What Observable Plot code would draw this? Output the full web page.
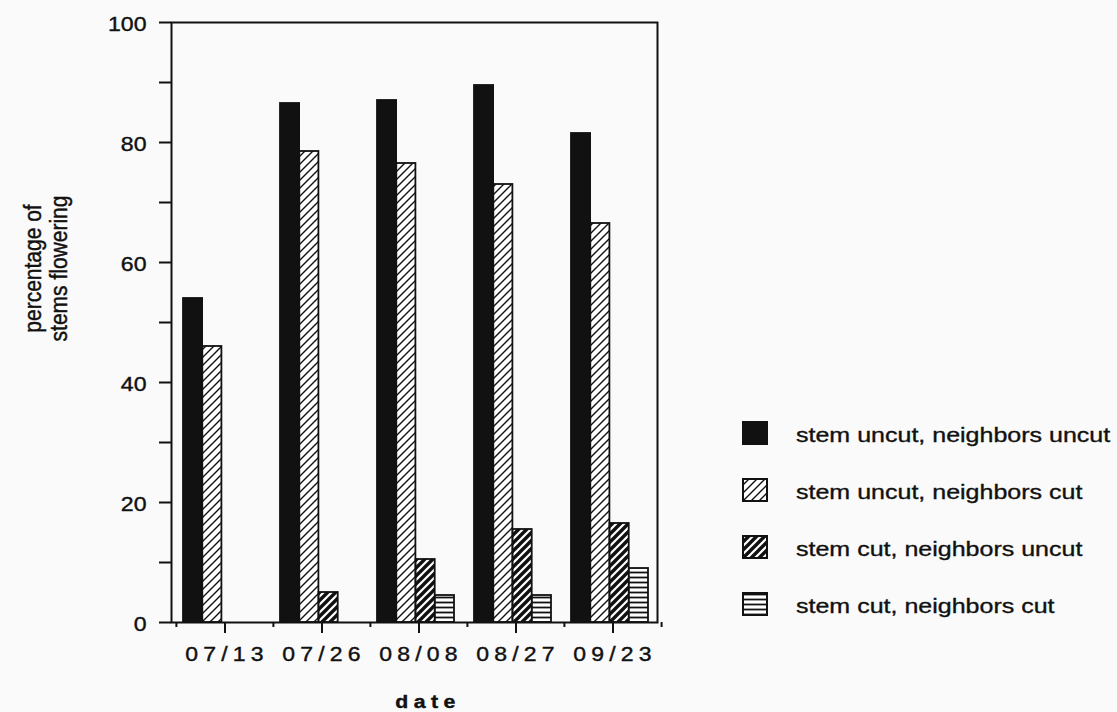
<!DOCTYPE html>
<html>
<head>
<meta charset="utf-8">
<script src="https://cdn.jsdelivr.net/npm/d3@7"></script>
<script src="https://cdn.jsdelivr.net/npm/@observablehq/plot@0.6"></script>
<style>
  html, body { margin: 0; padding: 0; background: #fafafa; }
  #wrap { position: relative; width: 1117px; height: 712px; font-family: "Liberation Sans", Arial, sans-serif; color: #111; }
  #legend { position: absolute; left: 742px; top: 421px; }
  .row { display: flex; align-items: center; height: 24px; margin-bottom: 33px; }
  .row svg { flex: none; }
  .row span {
    margin-left: 28px; font-size: 20.5px; padding-top: 4px; white-space: nowrap;
    display: inline-block; transform: scaleX(1.22); transform-origin: left center;
    -webkit-text-stroke: 0.35px #111;
  }
  svg.figure text { stroke: #111; stroke-width: 0.4px; }
</style>
</head>
<body>
<div id="wrap"><div id="legend"></div></div>
<script>
// Sampling dates
const dates = ["07/13", "07/26", "08/08", "08/27", "09/23"];

// Treatments, in drawing order within each date
const treatments = [
  "stem uncut, neighbors uncut",
  "stem uncut, neighbors cut",
  "stem cut, neighbors uncut",
  "stem cut, neighbors cut"
];

// Percentage of stems flowering per treatment (null = not sampled)
const uncutUncut = [54, 86.5, 87, 89.5, 81.5];
const uncutCut   = [46, 78.5, 76.5, 73, 66.5];
const cutUncut   = [null, 5, 10.5, 15.5, 16.5];
const cutCut     = [null, null, 4.5, 4.5, 9];

// Y axis ticks
const yTicks = [0, 10, 20, 30, 40, 50, 60, 70, 80, 90, 100];
const yLabels = [0, 20, 40, 60, 80, 100];

const seriesValues = [uncutUncut, uncutCut, cutUncut, cutCut];

// Layout
const W = 1117, H = 712;
const frameLeft = 171, frameRight = 657, frameTop = 22, frameBottom = 622;
const bandW = (frameRight - frameLeft) / dates.length;
const barW = 19.3, groupOffset = 11;
const INK = "#111";

// Fill patterns for the four treatments
function addPatterns(defs, prefix) {
  const light = defs.append("pattern").attr("id", prefix + "light")
    .attr("patternUnits", "userSpaceOnUse").attr("width", 8).attr("height", 8);
  light.append("rect").attr("width", 8).attr("height", 8).attr("fill", "#fff");
  light.append("path").attr("d", "M-2,2 L2,-2 M0,8 L8,0 M6,10 L10,6")
    .attr("stroke", INK).attr("stroke-width", 1.4);

  const dark = defs.append("pattern").attr("id", prefix + "dark")
    .attr("patternUnits", "userSpaceOnUse").attr("width", 8).attr("height", 8);
  dark.append("rect").attr("width", 8).attr("height", 8).attr("fill", "#fff");
  dark.append("path").attr("d", "M-2,2 L2,-2 M0,8 L8,0 M6,10 L10,6")
    .attr("stroke", INK).attr("stroke-width", 3.4);

  const lines = defs.append("pattern").attr("id", prefix + "lines")
    .attr("patternUnits", "userSpaceOnUse").attr("width", 5).attr("height", 5);
  lines.append("rect").attr("width", 5).attr("height", 5).attr("fill", "#fff");
  lines.append("path").attr("d", "M0,2.5 L5,2.5")
    .attr("stroke", INK).attr("stroke-width", 1.8);
}

const fills = p => [INK, `url(#${p}light)`, `url(#${p}dark)`, `url(#${p}lines)`];
const barFills = fills("bar-");

const barMarks = seriesValues.map((vals, i) =>
  Plot.barY(dates.map((d, j) => ({date: d, value: vals[j]})), {
    x: "date",
    y: "value",
    fill: barFills[i],
    stroke: INK,
    strokeWidth: 1.8,
    insetLeft: groupOffset + i * barW,
    insetRight: bandW - groupOffset - (i + 1) * barW
  })
);

const chart = Plot.plot({
  className: "figure",
  width: W,
  height: H,
  marginLeft: frameLeft,
  marginRight: W - frameRight,
  marginTop: frameTop,
  marginBottom: H - frameBottom,
  style: {background: "#fafafa", color: INK, fontFamily: "'Liberation Sans', Arial, sans-serif"},
  x: {domain: dates, padding: 0, label: null},
  y: {domain: [0, 100], label: null},
  marks: [
    ...barMarks,
    Plot.frame({stroke: INK, strokeWidth: 2}),
    // y ticks every 10, labels every 20
    Plot.axisY(yTicks, {tickSize: 12, strokeWidth: 2, tickFormat: () => "", label: null}),
    Plot.axisY(yLabels, {tickSize: 0, tickPadding: 25, fontSize: 21, dy: 2, label: null}),
    // x ticks at band centres, short ticks at band edges, then the date labels
    Plot.axisX(dates, {tickSize: 11, strokeWidth: 2, tickFormat: () => "", dx: 4, label: null}),
    Plot.axisX(dates, {tickSize: 5, strokeWidth: 2, tickFormat: () => "", dx: 4 - bandW / 2, label: null}),
    Plot.axisX([dates[dates.length - 1]], {tickSize: 5, strokeWidth: 2, tickFormat: () => "", dx: 4 + bandW / 2, label: null}),
    Plot.axisX(dates, {tickSize: 0, tickPadding: 24.5, fontSize: 20, dx: 6, label: null}),
    Plot.text(["percentage of\nstems flowering"], {
      text: d => d, frameAnchor: "top-left", dx: 45.6 - frameLeft, dy: 268 - frameTop,
      rotate: -90, fontSize: 21, lineHeight: 1.08, textAnchor: "middle", lineAnchor: "middle"
    }),
    Plot.text(["date"], {
      text: d => d, frameAnchor: "bottom", dx: 13.5, dy: 80,
      fontSize: 18.5, fontWeight: "bold", lineAnchor: "middle"
    })
  ]
});

const svg = d3.select(chart);
addPatterns(svg.insert("defs", ":first-child"), "bar-");

// Widen a text element about its own anchor
function stretch(el, sx, sy) {
  const tr = el.getAttribute("transform");
  if (tr) {
    el.setAttribute("transform", `${tr} scale(${sx},${sy})`);
  } else {
    const x = parseFloat(el.getAttribute("x")) || 0, y = parseFloat(el.getAttribute("y")) || 0;
    el.removeAttribute("x");
    el.removeAttribute("y");
    el.setAttribute("transform", `translate(${x},${y}) scale(${sx},${sy})`);
  }
}

// Typographic width and spacing for the axis texts
svg.selectAll("text").each(function() {
  const s = this.textContent;
  if (dates.includes(s)) {
    this.style.letterSpacing = "4.5px";
    stretch(this, 1.15, 1);
  } else if (s === "date") {
    this.style.letterSpacing = "4.7px";
    stretch(this, 1.15, 1);
  } else if (/^\d+$/.test(s)) {
    stretch(this, 1.1, 1);
  } else if (s.startsWith("percentage")) {
    stretch(this, 1, 1.15);
  }
});

document.getElementById("wrap").prepend(chart);

// Legend
const legend = d3.select("#legend");
treatments.forEach((name, i) => {
  const row = legend.append("div").attr("class", "row");
  const s = row.append("svg").attr("width", 26).attr("height", 24);
  addPatterns(s.append("defs"), "leg" + i + "-");
  s.append("rect").attr("x", 1).attr("y", 1).attr("width", 24).attr("height", 22)
    .attr("fill", fills("leg" + i + "-")[i]).attr("stroke", INK).attr("stroke-width", 2);
  row.append("span").text(name);
});
</script>
</body>
</html>
